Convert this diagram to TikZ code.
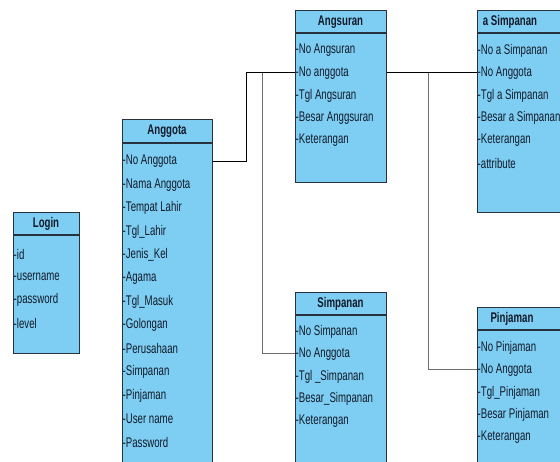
\documentclass[tikz,border=0pt]{standalone}
\usepackage{fontspec}
\setmainfont{Liberation Sans}[FakeStretch=0.69]
\definecolor{clsfill}{HTML}{7ECEF3}
\definecolor{edge}{HTML}{26333F}
\definecolor{txt}{HTML}{121A28}
\definecolor{glink}{HTML}{6E6E6E}
\tikzset{
  cls/.style={draw=edge, fill=clsfill, line width=1.1pt, rectangle, inner sep=0pt, anchor=north west},
  hline/.style={draw=edge, line width=1.1pt},
  ttl/.style={font=\fontsize{14}{16}\selectfont\bfseries, text=txt, inner sep=0pt},
  attr/.style={anchor=west, text=txt, inner sep=0pt, font=\fontsize{14}{16}\selectfont},
  link/.style={draw=black, line width=1pt},
  glinkst/.style={draw=glink, line width=1pt}
}
\begin{document}
\begin{tikzpicture}[x=1pt,y=-1pt]
\useasboundingbox (0,0) rectangle (560,462);
\clip (0,0) rectangle (560,462);
\fill[white] (0,0) rectangle (560,462);

% Login
\node[cls, minimum width=66pt, minimum height=141pt] (login) at (13,212) {};
\draw[hline] (13,235) -- (79,235);
\node[ttl] (login-t) at (46,224) {Login};
\node[attr] (lg1) at (13.5,254) {-id};
\node[attr] (lg2) at (13.5,277) {-username};
\node[attr] (lg3) at (13.5,300) {-password};
\node[attr] (lg4) at (13.5,323) {-level};

% Anggota
\node[cls, minimum width=90pt, minimum height=360pt] (anggota) at (122,119) {};
\draw[hline] (122,143) -- (212,143);
\node[ttl] (anggota-t) at (167,131) {Anggota};
\foreach \t [count=\i] in {-No Anggota,-Nama Anggota,-Tempat Lahir,-Tgl\_Lahir,-Jenis\_Kel,-Agama,-Tgl\_Masuk,-Golongan,-Perusahaan,-Simpanan,-Pinjaman,-User name,-Password}
  \node[attr] (ag\i) at (122.5,{138+23.4*\i}) {\t};

% Angsuran
\node[cls, minimum width=91pt, minimum height=172pt] (angsuran) at (295,10) {};
\draw[hline] (295,33) -- (386,33);
\node[ttl] (angsuran-t) at (340.5,22) {Angsuran};
\foreach \t [count=\i] in {-No Angsuran,-No anggota,-Tgl Angsuran,-Besar Anggsuran,-Keterangan}
  \node[attr] (an\i) at (295.5,{28+22.5*\i}) {\t};

% a Simpanan
\node[cls, minimum width=95pt, minimum height=202pt] (asimp) at (477,10) {};
\draw[hline] (477,33) -- (572,33);
\node[ttl] (asimp-t) at (510,22) {a Simpanan};
\foreach \t [count=\i] in {-No a Simpanan,-No Anggota,-Tgl a Simpanan,-Besar a Simpanan,-Keterangan,-attribute}
  \node[attr] (as\i) at (477.5,{28+22.5*\i}) {\t};

% Simpanan
\node[cls, minimum width=91pt, minimum height=190pt] (simpanan) at (295,292) {};
\draw[hline] (295,315) -- (386,315);
\node[ttl] (simpanan-t) at (340.5,303.5) {Simpanan};
\foreach \t [count=\i] in {-No Simpanan,-No Anggota,-Tgl \_Simpanan,-Besar\_Simpanan,-Keterangan}
  \node[attr] (sp\i) at (295.5,{309+22.5*\i}) {\t};

% Pinjaman
\node[cls, minimum width=95pt, minimum height=180pt] (pinjaman) at (477,307) {};
\draw[hline] (477,330) -- (572,330);
\node[ttl] (pinjaman-t) at (512,318.5) {Pinjaman};
\foreach \t [count=\i] in {-No Pinjaman,-No Anggota,-Tgl\_Pinjaman,-Besar Pinjaman,-Keterangan}
  \node[attr] (pj\i) at (477.5,{325+22.5*\i}) {\t};

% connectors
\coordinate (j1) at (262,0);
\coordinate (j2) at (428,0);
\draw[glinkst] (an2 -| j1) |- (sp2 -| simpanan.west);
\draw[glinkst] (as2 -| j2) |- (pj2 -| pinjaman.west);
\draw[link] (ag1 -| anggota.east) -- ++(33,0) |- (an2 -| angsuran.west);
\draw[link] (an2 -| angsuran.east) -- (as2 -| asimp.west);
\end{tikzpicture}
\end{document}
